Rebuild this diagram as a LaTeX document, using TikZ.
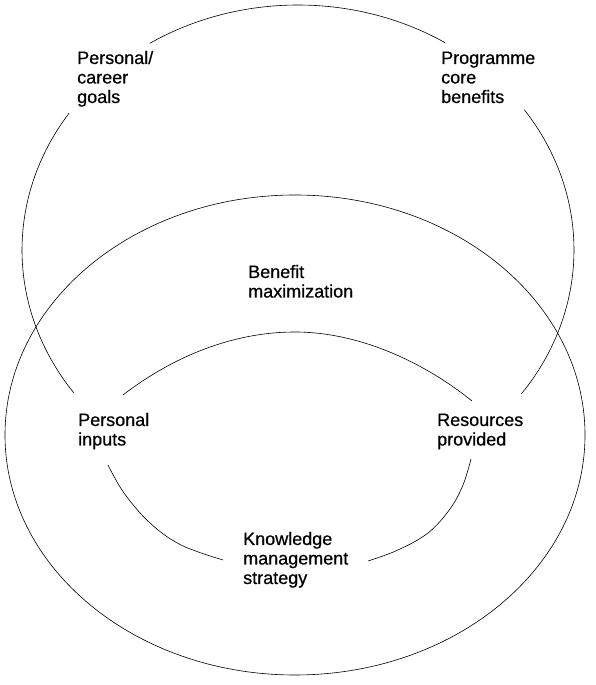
\documentclass[tikz,border=0pt]{standalone}
\usepackage{fontspec}
\setmainfont[FakeBold=0.6]{Liberation Sans}
\begin{document}
\begin{tikzpicture}[x=1pt,y=1pt,
  curve/.style={line width=0.6pt, black},
  lbl/.style={anchor=base west, inner sep=0pt, font=\fontsize{18}{19.5}\selectfont}]
\useasboundingbox (0,0) rectangle (595,685);
% outer (lower) ellipse
\draw[curve] (295,250) ellipse [x radius=290pt, y radius=240pt];
% upper ellipse, broken at labels
\draw[curve] (298,435) ++(215.7:276pt and 245pt) arc[start angle=215.7, end angle=146, x radius=276pt, y radius=245pt];
\draw[curve] (298,435) ++(122.5:276pt and 245pt) arc[start angle=122.5, end angle=57.8, x radius=276pt, y radius=245pt];
\draw[curve] (298,435) ++(34.9:276pt and 245pt) arc[start angle=34.9, end angle=-36, x radius=276pt, y radius=245pt];
% inner arcs
\draw[curve] (123,290) .. controls (175,330) and (235,353) .. (295,353)
                       .. controls (360,353) and (425,322) .. (472,284);
\draw[curve] plot[smooth, tension=0.6] coordinates {(108,220) (124,192) (150,162) (181,140) (223,125)};
\draw[curve] plot[smooth, tension=0.6] coordinates {(368,124) (398,135) (428,152) (450,176) (463,200) (471,226)};
% labels
\node[lbl] (goals) at (77,621) {\vtop{\hbox{Personal/}\hbox{career}\hbox{goals}}};
\node[lbl] (core) at (441,621) {\vtop{\hbox{Programme}\hbox{core}\hbox{benefits}}};
\node[lbl] (benefit) at (248,407) {\vtop{\hbox{Benefit}\hbox{maximization}}};
\node[lbl] (inputs) at (78,259) {\vtop{\hbox{Personal}\hbox{inputs}}};
\node[lbl] (resources) at (437,259) {\vtop{\hbox{Resources}\hbox{provided}}};
\node[lbl] (km) at (243,140) {\vtop{\hbox{Knowledge}\hbox{management}\hbox{strategy}}};
\end{tikzpicture}
\end{document}
